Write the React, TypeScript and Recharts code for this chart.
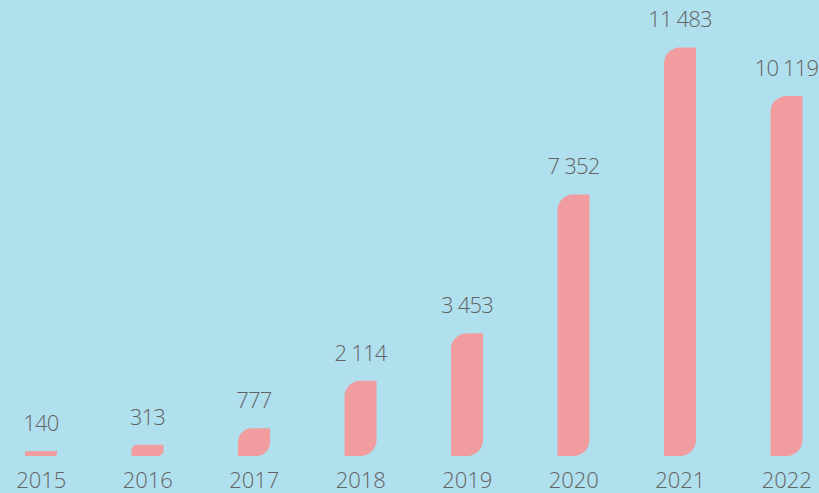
import { BarChart, Bar, XAxis, YAxis, LabelList } from 'recharts';

const years = ['2015', '2016', '2017', '2018', '2019', '2020', '2021', '2022'];
const values = [140, 313, 777, 2114, 3453, 7352, 11483, 10119];

const data = years.map((year, i) => ({ year, value: values[i] }));

const fmt = (v: any) => String(v).replace(/\B(?=(\d{3})+(?!\d))/g, ' ');

const textStyle = {
  fontFamily: '"Open Sans", sans-serif',
  fontWeight: 300,
  fontSize: 22,
  fill: '#636363',
};

// value above each bar, kept on one line
const ValueLabel = (props: any) => {
  const { x, y, width, value } = props;
  return (
    <text
      x={x + width / 2}
      y={y - 20}
      textAnchor="middle"
      style={{ ...textStyle, letterSpacing: -0.8 }}
    >
      {fmt(value)}
    </text>
  );
};

const App = () => {
  return (
    <div style={{ position: 'absolute', left: 0, top: 0, width: 819, height: 493, background: '#B0DFEE' }}>
      <BarChart
        width={819}
        height={493}
        data={data}
        margin={{ top: 29, right: -21, bottom: 0, left: -12 }}
        barCategoryGap={0}
      >
        <YAxis hide domain={[0, 12000]} />
        <XAxis
          dataKey="year"
          axisLine={false}
          tickLine={false}
          tickSize={0}
          tickMargin={16}
          height={37}
          interval={0}
          tick={textStyle}
        />
        <Bar
          dataKey="value"
          fill="#F19C9E"
          barSize={32}
          radius={[16, 0, 16, 0]}
          isAnimationActive={false}
        >
          <LabelList dataKey="value" content={ValueLabel} />
        </Bar>
      </BarChart>
    </div>
  );
};

export default App;
